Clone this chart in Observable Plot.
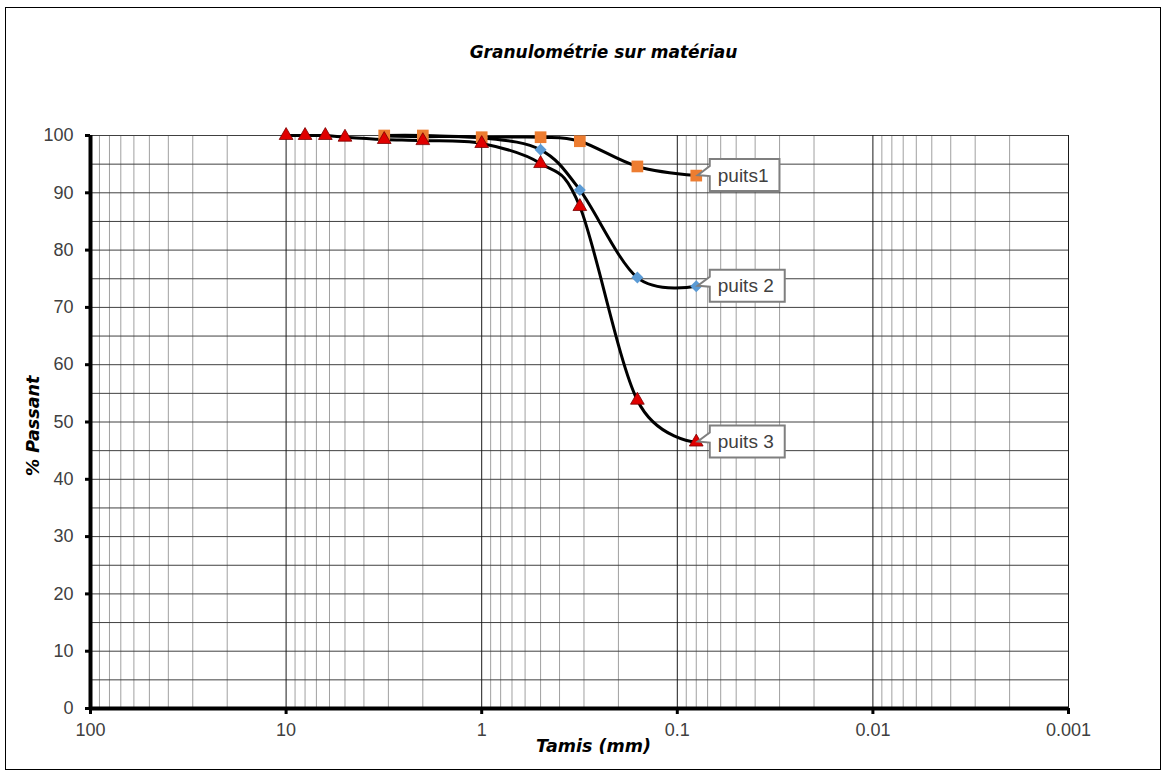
<!DOCTYPE html>
<html>
<head>
<meta charset="utf-8">
<script src="https://cdn.jsdelivr.net/npm/d3@7"></script>
<script src="https://cdn.jsdelivr.net/npm/@observablehq/plot@0.6"></script>
<style>
  body { margin: 0; background: #fff; }
  #wrap { position: relative; width: 1164px; height: 775px; overflow: hidden; }
  #frame { position: absolute; left: 5px; top: 7px; width: 1154px; height: 761px; border: 1px solid #000; pointer-events: none; }
</style>
</head>
<body>
<div id="wrap"><div id="frame"></div></div>
<script>
const title = "Granulométrie sur matériau";
const xLabel = "Tamis (mm)";
const yLabel = "% Passant";
const xTicks = [100, 10, 1, 0.1, 0.01, 0.001];
const yTicks = [0, 10, 20, 30, 40, 50, 60, 70, 80, 90, 100];
const yGrid = [5, 10, 15, 20, 25, 30, 35, 40, 45, 50, 55, 60, 65, 70, 75, 80, 85, 90, 95, 100];
const minorMultipliers = [2, 3, 4, 5, 6, 7, 8, 9];

const seriesNames = ["puits1", "puits 2", "puits 3"];
const sieves1 = [3.15, 2, 1, 0.5, 0.315, 0.16, 0.08];
const puits1 = [100, 100, 99.7, 99.7, 99.0, 94.6, 93.0];
const sieves2 = [3.15, 2, 1, 0.5, 0.315, 0.16, 0.08];
const puits2 = [99.9, 99.8, 99.6, 97.5, 90.5, 75.2, 73.7];
const sieves3 = [10, 8, 6.3, 5, 3.15, 2, 1, 0.5, 0.315, 0.16, 0.08];
const puits3 = [100, 100, 100, 99.7, 99.3, 99.1, 98.6, 95.1, 87.6, 53.8, 46.5];

const toRows = (xs, ys, name) => xs.map((x, i) => ({x, y: ys[i], name}));
const d1 = toRows(sieves1, puits1, seriesNames[0]);
const d2 = toRows(sieves2, puits2, seriesNames[1]);
const d3r = toRows(sieves3, puits3, seriesNames[2]);
const lastPoints = [d1[d1.length - 1], d2[d2.length - 1], d3r[d3r.length - 1]];

const decades = xTicks.slice(1);
const minorX = [];
for (const d of decades) for (const m of minorMultipliers) minorX.push(m * d);

const FONT = "Liberation Sans, Arial, sans-serif";
const LABEL_FONT = "DejaVu Sans, sans-serif";

// Callout labels (box + pointer) positioned through the chart's scales
function callouts(index, scales) {
  const g = d3.create("svg:g").attr("class", "callouts");
  for (const p of lastPoints) {
    const px = scales.x(p.x), py = scales.y(p.y);
    const c = g.append("g").attr("class", "callout").attr("data-px", px).attr("data-py", py);
    c.append("path").attr("fill", "#fff").attr("stroke", "#7f7f7f").attr("stroke-width", 2);
    c.append("text")
      .attr("x", px + 22).attr("y", py).attr("dy", "0.35em")
      .attr("text-anchor", "start")
      .attr("fill", "#404040").attr("font-size", 19).attr("font-family", FONT)
      .text(p.name);
  }
  return g.node();
}

const chart = Plot.plot({
  width: 1164,
  height: 775,
  marginLeft: 90,
  marginRight: 96,
  marginTop: 135,
  marginBottom: 67,
  style: {fontFamily: FONT, fontSize: "18px", color: "#404040", background: "transparent"},
  x: {type: "log", domain: [100, 0.001]},
  y: {domain: [0, 100]},
  marks: [
    Plot.ruleX(minorX, {stroke: "#a0a0a0", strokeWidth: 1}),
    Plot.ruleY(yGrid, {stroke: "#404040", strokeWidth: 1}),
    Plot.ruleX(decades, {stroke: "#1a1a1a", strokeWidth: 1}),
    Plot.axisX({ticks: xTicks, tickFormat: d => String(d), tickSize: 6, tickPadding: 9, strokeWidth: 3, stroke: "#000", fill: "#404040", fontSize: 18, label: null}),
    Plot.axisY({ticks: yTicks, tickSize: 5, tickPadding: 12, strokeWidth: 3, stroke: "#000", fill: "#404040", fontSize: 18, label: null}),
    Plot.ruleX([100], {stroke: "#000", strokeWidth: 4}),
    Plot.ruleY([0], {stroke: "#000", strokeWidth: 4}),
    Plot.line(d1, {x: "x", y: "y", curve: "cardinal", stroke: "#000", strokeWidth: 3}),
    Plot.line(d2, {x: "x", y: "y", curve: "cardinal", stroke: "#000", strokeWidth: 3}),
    Plot.line(d3r, {x: "x", y: "y", curve: "cardinal", stroke: "#000", strokeWidth: 3}),
    Plot.dot(d2, {x: "x", y: "y", symbol: "diamond2", r: 5.4, fill: "#5b9bd5", stroke: "none"}),
    Plot.dot(d1, {x: "x", y: "y", symbol: "square", r: 6.6, fill: "#ed7d31", stroke: "none"}),
    Plot.dot(d3r, {x: "x", y: "y", symbol: "triangle", r: 5.1, fill: "#e00000", stroke: "#7a0000", strokeWidth: 0.8}),
    callouts,
    Plot.text([title], {text: d => d, frameAnchor: "top", lineAnchor: "middle", textAnchor: "middle", dy: -83, dx: 24, fontSize: 17, fontWeight: "bold", fontStyle: "italic", fontFamily: LABEL_FONT, fill: "#000"}),
    Plot.text([xLabel], {text: d => d, frameAnchor: "bottom", lineAnchor: "middle", textAnchor: "middle", dy: 38, dx: 14, fontSize: 17.5, fontWeight: "bold", fontStyle: "italic", fontFamily: LABEL_FONT, fill: "#000"}),
    Plot.text([yLabel], {text: d => d, frameAnchor: "left", lineAnchor: "middle", textAnchor: "middle", dx: -57, dy: 4, rotate: -90, fontSize: 17.5, fontWeight: "bold", fontStyle: "italic", fontFamily: LABEL_FONT, fill: "#000"})
  ]
});
document.getElementById("wrap").prepend(chart);

// size callout boxes to their text
d3.select(chart).selectAll("g.callout").each(function () {
  const c = d3.select(this);
  const px = +c.attr("data-px"), py = +c.attr("data-py");
  const w = c.select("text").node().getComputedTextLength();
  const bx = px + 14, W = w + 19, H = 32, top = py - H / 2;
  const path = `M${bx},${top}H${bx + W}V${top + H}H${bx}V${py + 1}L${px + 2},${py}L${bx},${py - 9}Z`;
  c.select("path").attr("d", path);
});
</script>
</body>
</html>
